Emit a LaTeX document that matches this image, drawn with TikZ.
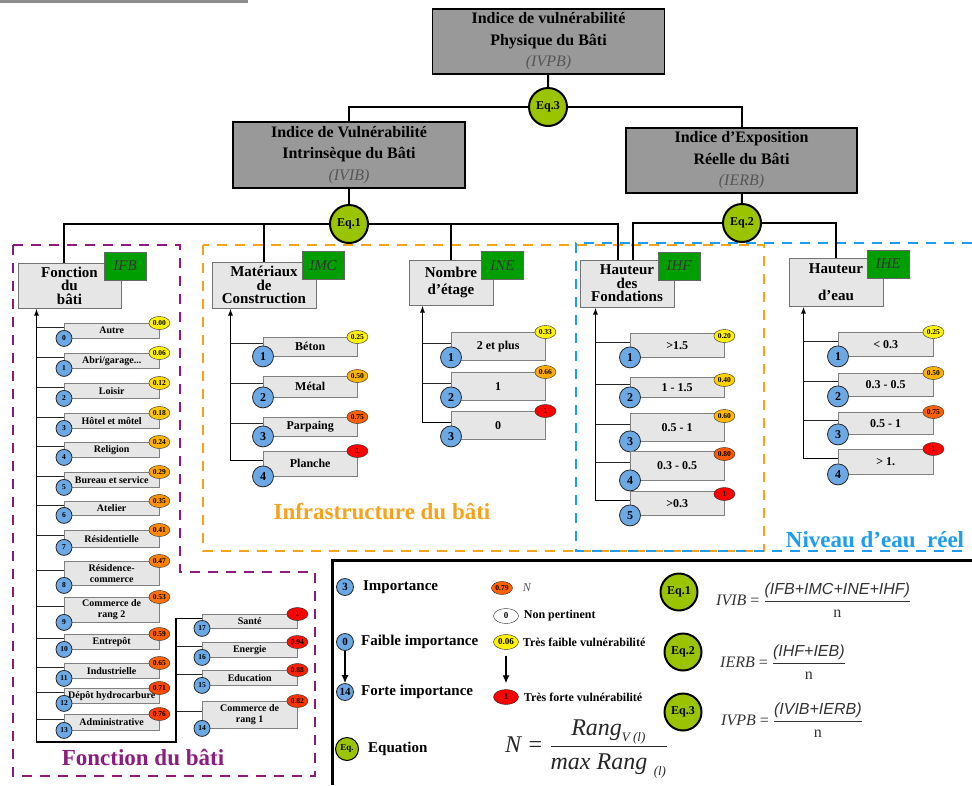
\documentclass[tikz,border=0pt]{standalone}
\usepackage{fontspec}
\setmainfont{Liberation Serif}
\setsansfont{Liberation Sans}
\usepackage{tikz}
\usetikzlibrary{arrows.meta,positioning,shapes.geometric}

\definecolor{headgrey}{HTML}{999999}
\definecolor{itemgrey}{HTML}{E6E6E6}
\definecolor{tagGreen}{HTML}{009E00}
\definecolor{numBlue}{HTML}{6CA8E4}
\definecolor{eqGreen}{HTML}{9BC400}
\definecolor{zonePurple}{HTML}{8E1C7E}
\definecolor{zoneOrange}{HTML}{F7A21B}
\definecolor{zoneBlue}{HTML}{1E9CF0}
\definecolor{subGrey}{HTML}{555555}

\begin{document}
\begin{tikzpicture}[x=1pt, y=-1pt,
    head/.style={rectangle, draw, line width=1.6pt, fill=headgrey, align=center, inner sep=0pt, minimum width=232pt, minimum height=65pt, font=\bfseries\fontsize{16}{21.5}\selectfont},
    crit/.style={rectangle, draw=black!55, line width=1pt, fill=itemgrey, align=center, inner sep=1pt, font=\bfseries\fontsize{15}{13.5}\selectfont},
    tag/.style={rectangle, draw=black!60, fill=tagGreen, minimum width=42pt, minimum height=28pt, inner sep=0pt, font=\itshape\fontsize{15}{15}\selectfont, text=black!80},
    eq/.style={circle, draw, line width=2pt, fill=eqGreen, minimum size=38pt, inner sep=0pt, font=\bfseries\fontsize{12}{12}\selectfont},
    item/.style={rectangle, draw=black!50, fill=itemgrey, anchor=north west, align=center, inner xsep=1pt, inner ysep=0pt, minimum width=94pt, font=\bfseries\fontsize{12}{13}\selectfont},
    ifbitem/.style={item, minimum width=95pt, font=\bfseries\fontsize{10}{11}\selectfont},
    num/.style={circle, draw=black!85, line width=0.8pt, fill=numBlue, minimum size=21pt, inner sep=0pt, font=\bfseries\fontsize{12}{12}\selectfont},
    ifbnum/.style={num, minimum size=16pt, font=\bfseries\fontsize{7.5}{8}\selectfont},
    lnum/.style={num, minimum size=17pt, font=\bfseries\fontsize{11}{11}\selectfont},
    val/.style={ellipse, draw=black!85, minimum width=21pt, minimum height=13pt, inner sep=0pt, font=\bfseries\fontsize{7.5}{8}\selectfont},
    lval/.style={val, minimum width=25pt, minimum height=15pt, font=\bfseries\fontsize{9}{9}\selectfont},
    link/.style={line width=2pt},
    trunk/.style={line width=1.3pt, -{Latex[length=7pt,width=5pt]}},
    branch/.style={line width=1pt, black!85},
    zone/.style={line width=2.2pt, dash pattern=on 10pt off 8pt},
    zonelabel/.style={font=\bfseries\fontsize{23}{23}\selectfont},
    ltext/.style={inner sep=0pt, font=\bfseries\fontsize{15}{15}\selectfont},
    lsmall/.style={inner sep=0pt, font=\bfseries\fontsize{12}{12}\selectfont},
    larrow/.style={line width=1.3pt, -{Latex[length=8pt,width=7pt]}},
    formula/.style={anchor=west, inner sep=0pt, text=black!80, font=\fontsize{16}{18}\selectfont}
]
\useasboundingbox (0,0) rectangle (972,785);

% dashed zones and frames
\draw[line width=3pt, black!45] (0,1.5) -- (248,1.5);
\draw[zone, zonePurple] (13,245) -- (180,245) -- (180,572) -- (315,572) -- (315,776) -- (13,776) -- cycle;
\draw[zone, zoneOrange] (203,245) rectangle (764,551);
\draw[zone, zoneBlue] (972,243) -- (576,243) -- (576,551) -- (966,551);
\draw[line width=3pt] (332,785) -- (332,560) -- (972,560);

\node[zonelabel, text=zonePurple] (lfb) at (143,758) {Fonction du bâti};
\node[zonelabel, text=zoneOrange] (linf) at (382,512) {Infrastructure du bâti};
\node[zonelabel, text=zoneBlue] (lniv) at (875,540) {Niveau d'eau\ \ réel};

% indices
\node[head] (ivpb) at (548.5,41.5) {Indice de vulnérabilité\\Physique du Bâti\\{\mdseries\itshape\color{subGrey}(IVPB)}};
\node[head, minimum height=66pt] (ivib) at (349,155) {Indice de Vulnérabilité\\Intrinsèque du Bâti\\{\mdseries\itshape\color{subGrey}(IVIB)}};
\node[head, minimum width=231pt] (ierb) at (741.5,160.5) {Indice d'Exposition\\Réelle du Bâti\\{\mdseries\itshape\color{subGrey}(IERB)}};

\node[eq] (eq3) at (548,107) {Eq.3};
\node[eq] (eq1) at (349,224) {Eq.1};
\node[eq] (eq2) at (742,223) {Eq.2};

\draw[link] (ivpb) -- (eq3);
\draw[link] (eq3) -| (ivib);
\draw[link] (eq3) -| (ierb);
\draw[link] (ivib) -- (eq1);
\draw[link] (ierb) -- (eq2);

% criteria
\node[crit, minimum width=103pt, minimum height=45pt] (fb) at (69.5,285.5) {Fonction\\du\\bâti};
\node[crit, minimum width=104pt, minimum height=46pt] (mc) at (264,285) {Matériaux\\de\\Construction};
\node[crit, minimum width=84pt, minimum height=45pt] (ne) at (451,282.5) {Nombre\\[4pt]d'étage};
\node[crit, minimum width=94pt, minimum height=47pt] (hf) at (627,283.5) {Hauteur\\des\\Fondations};
\node[crit, minimum width=94pt, minimum height=48pt] (he) at (836,282) {Hauteur\\[13.5pt]d'eau};

\node[tag] (tfb) at (125,266) {IFB};
\node[tag] (tmc) at (323,265.5) {IMC};
\node[tag] (tne) at (502.5,265.5) {INE};
\node[tag] (thf) at (679,266) {IHF};
\node[tag] (the) at (888,264) {IHE};

\draw[link] (eq1) -| ([xshift=-6pt]fb.north);
\draw[link] (eq1) -| (mc.north);
\draw[link] (eq1) -| (ne.north);
\draw[link] (eq1) -| ([xshift=-9pt]hf.north);
\draw[link] (eq2) -| ([xshift=6pt]hf.north);
\draw[link] (eq2) -| (he.north);

% Fonction du bati
\coordinate (fct) at ([xshift=19pt]fb.south west);
\coordinate (fturn) at (176,742);
\coordinate (fbase) at (fct |- fturn);
\foreach \nr/\ty/\hh/\txt/\vl/\cl in {
    0/323/15/Autre/0.00/0,
    1/353/15/{Abri/garage...}/0.06/0,
    2/383/15/Loisir/0.12/15,
    3/413/15/Hôtel et môtel/0.18/22,
    4/442/15/Religion/0.24/30,
    5/472/15/Bureau et service/0.29/36,
    6/501/14/Atelier/0.35/42,
    7/530/17/Résidentielle/0.41/46,
    8/561/24/{Résidence-\\commerce}/0.47/50,
    9/597/25/{Commerce de\\rang 2}/0.53/55,
    10/634/15/Entrepôt/0.59/62,
    11/663/15/Industrielle/0.65/62,
    12/688/15/Dépôt hydrocarbure/0.71/72,
    13/714/16/Administrative/0.76/76}{
  \node[ifbitem, minimum height=\hh pt] (f\nr) at (64,\ty) {\txt};
  \coordinate (fj\nr) at ([yshift=3pt]f\nr.west);
  \draw[branch] (fct |- fj\nr) -- (fj\nr);
  \node[ifbnum] (fn\nr) at (f\nr.south west) {\nr};
  \node[val, fill=red!\cl!yellow] (fv\nr) at (f\nr.north east) {\vl};
}
\foreach \nr/\ty/\hh/\txt/\vl/\cl in {
    17/614/14/Santé/1/100,
    16/642/15/Energie/0.94/93,
    15/670/15/Education/0.88/87,
    14/701/27/{Commerce de\\rang 1}/0.82/80}{
  \node[ifbitem, minimum height=\hh pt] (f\nr) at (202,\ty) {\txt};
  \coordinate (fj\nr) at ([yshift=3pt]f\nr.west);
  \draw[branch] (fturn |- fj\nr) -- (fj\nr);
  \node[ifbnum] (fn\nr) at (f\nr.south west) {\nr};
  \node[val, fill=red!\cl!yellow] (fv\nr) at (f\nr.north east) {\vl};
}
\draw[trunk] (fj17) -| (fturn) -- (fbase) -- (fct);

% Materiaux de construction
\coordinate (mct) at ([xshift=19pt]mc.south west);
\foreach \nr/\ty/\hh/\txt/\vl/\cl in {
    1/337/19/Béton/0.25/0,
    2/376/21/Métal/0.50/30,
    3/417/19/Parpaing/0.75/62,
    4/451/25/Planche/1/100}{
  \node[item, minimum height=\hh pt] (m\nr) at (263,\ty) {\txt};
  \coordinate (mj\nr) at ([yshift=3pt]m\nr.west);
  \draw[branch] (mct |- mj\nr) -- (mj\nr);
  \node[num] (mn\nr) at (m\nr.south west) {\nr};
  \node[val, fill=red!\cl!yellow] (mv\nr) at (m\nr.north east) {\vl};
}
\draw[trunk] (mj4) -| (mct);

% Nombre d'etage
\coordinate (nct) at ([xshift=14pt]ne.south west);
\foreach \nr/\ty/\hh/\txt/\vl/\cl in {
    1/332/28/2 et plus/0.33/0,
    2/372/28/1/0.66/33,
    3/411/28/0/1/100}{
  \node[item, minimum height=\hh pt] (n\nr) at (451,\ty) {\txt};
  \coordinate (nj\nr) at ([yshift=3pt]n\nr.west);
  \draw[branch] (nct |- nj\nr) -- (nj\nr);
  \node[num] (nn\nr) at ([yshift=3pt]n\nr.south west) {\nr};
  \node[val, fill=red!\cl!yellow] (nv\nr) at (n\nr.north east) {\vl};
}
\draw[trunk] (nj3) -| (nct);

% Hauteur des fondations
\coordinate (hct) at ([xshift=16pt]hf.south west);
\foreach \nr/\ty/\hh/\txt/\vl/\cl in {
    1/333/24/>1.5/0.20/0,
    2/377/20/1 - 1.5/0.40/18,
    3/413/28/0.5 - 1/0.60/28,
    4/451/29/0.3 - 0.5/0.80/65,
    5/491/24/>0.3/1/100}{
  \node[item, minimum height=\hh pt] (h\nr) at (630,\ty) {\txt};
  \coordinate (hj\nr) at ([yshift=3pt]h\nr.west);
  \draw[branch] (hct |- hj\nr) -- (hj\nr);
  \node[num] (hn\nr) at (h\nr.south west) {\nr};
  \node[val, fill=red!\cl!yellow] (hv\nr) at ([yshift=-3pt]h\nr.north east) {\vl};
}
\draw[trunk] (hj5) -| (hct);

% Hauteur d'eau
\coordinate (ect) at ([xshift=15pt]he.south west);
\foreach \nr/\ty/\hh/\txt/\vl/\cl in {
    1/332/24/< 0.3/0.25/0,
    2/373/23/0.3 - 0.5/0.50/30,
    3/412/22/0.5 - 1/0.75/62,
    4/449/25/> 1./1/100}{
  \node[item, minimum width=95pt, minimum height=\hh pt] (e\nr) at (838,\ty) {\txt};
  \coordinate (ej\nr) at ([yshift=3pt]e\nr.west);
  \draw[branch] (ect |- ej\nr) -- (ej\nr);
  \node[num] (en\nr) at (e\nr.south west) {\nr};
  \node[val, fill=red!\cl!yellow] (ev\nr) at (e\nr.north east) {\vl};
}
\draw[trunk] (ej4) -| (ect);

% legend
\node[lnum] (ln3) at (345,587) {3};
\node[ltext, right=9pt of ln3] (lt3) {Importance};
\node[lnum] (ln0) at (345,642) {0};
\node[ltext, right=7pt of ln0] (lt0) {Faible importance};
\node[lnum] (ln14) at (345,692) {14};
\node[ltext, right=7pt of ln14] (lt14) {Forte importance};
\draw[larrow] (ln0) -- (ln14);
\node[eq, minimum size=23pt, line width=1pt, font=\bfseries\fontsize{9}{9}\selectfont] (leq) at (347,749) {Eq.};
\node[ltext, right=9pt of leq] (lteq) {Equation};

\node[val, fill=red!62!yellow] (lv079) at (502,588) {0.79};
\node[inner sep=0pt, right=10pt of lv079, font=\itshape\fontsize{12}{12}\selectfont, text=subGrey] (ltn) {N};
\node[lval, fill=white] (lv0) at (506,616) {0};
\node[lsmall, right=5pt of lv0] (ltnp) {Non pertinent};
\node[lval, fill=yellow] (lv006) at (506,642) {0.06};
\node[lsmall, right=4pt of lv006] (ltfv) {Très faible vulnérabilité};
\node[lval, fill=red] (lv1) at (506,697) {1};
\node[lsmall, right=5pt of lv1] (ltfo) {Très forte vulnérabilité};
\draw[larrow, shorten <=6pt, shorten >=6pt] (lv006) -- (lv1);

\node[formula, font=\itshape\fontsize{24}{28}\selectfont, text=black!85] (nf) at (505,749) {N = $\displaystyle\frac{\mbox{Rang}_{\mbox{\fontsize{13}{13}\selectfont V (l)}}}{\mbox{max Rang}_{\mbox{\fontsize{13}{13}\selectfont\ \ (l)}}}$};

\node[eq, minimum size=37pt] (le1) at (679,592) {Eq.1};
\node[eq, minimum size=37pt] (le2) at (683,652) {Eq.2};
\node[eq, minimum size=37pt] (le3) at (683,712) {Eq.3};
\node[formula] (fe1) at (716,600) {\textit{IVIB} = $\displaystyle\frac{\mbox{\sffamily\itshape (IFB+IMC+INE+IHF)}}{\mbox{n}}$};
\node[formula] (fe2) at (720,662) {\textit{IERB} = $\displaystyle\frac{\mbox{\sffamily\itshape (IHF+IEB)}}{\mbox{n}}$};
\node[formula] (fe3) at (721,720) {\textit{IVPB} = $\displaystyle\frac{\mbox{\sffamily\itshape (IVIB+IERB)}}{\mbox{n}}$};
\end{tikzpicture}
\end{document}
